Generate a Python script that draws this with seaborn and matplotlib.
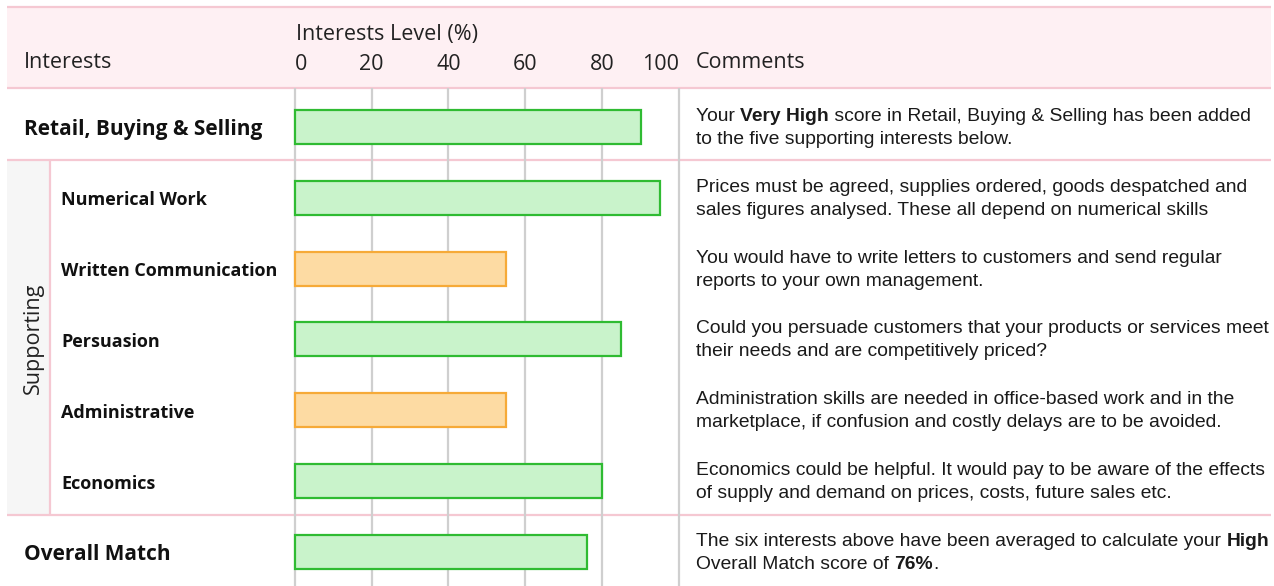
import matplotlib
matplotlib.use("Agg")
import matplotlib.pyplot as plt
import matplotlib.transforms as mtransforms
from matplotlib.patches import Rectangle
import seaborn as sns
import pandas as pd

# ---------------- data ----------------
names = ["Retail, Buying & Selling", "Numerical Work", "Written Communication",
         "Persuasion", "Administrative", "Economics", "Overall Match"]
values = [90, 95, 55, 85, 55, 80, 76]
levels = ["high", "high", "mid", "high", "mid", "high", "high"]
groups = ["main", "support", "support", "support", "support", "support", "main"]
tick_values = [0, 20, 40, 60, 80, 100]
tick_labels = ["0", "20", "40", "60", "80", "100"]
comments = [
    ["Your **Very High** score in Retail, Buying & Selling has been added",
     "to the five supporting interests below."],
    ["Prices must be agreed, supplies ordered, goods despatched and",
     "sales figures analysed. These all depend on numerical skills"],
    ["You would have to write letters to customers and send regular",
     "reports to your own management."],
    ["Could you persuade customers that your products or services meet",
     "their needs and are competitively priced?"],
    ["Administration skills are needed in office-based work and in the",
     "marketplace, if confusion and costly delays are to be avoided."],
    ["Economics could be helpful. It would pay to be aware of the effects",
     "of supply and demand on prices, costs, future sales etc."],
    ["The six interests above have been averaged to calculate your **High**",
     "Overall Match score of **76%**."],
]
header_left = "Interests"
header_mid = "Interests Level (%)"
header_right = "Comments"
group_label = "Supporting"

fill_map = {"high": "#c9f3cb", "mid": "#fddba3"}
edge_map = {"high": "#2fbb32", "mid": "#f6aa38"}

df = pd.DataFrame({"name": names, "value": values, "level": levels})

# ---------------- figure ----------------
sns.set_style("white")
plt.rcParams["font.family"] = ["Open Sans", "DejaVu Sans"]

W, H = 1274, 586
fig = plt.figure(figsize=(W / 100, H / 100), dpi=100)

# overlay axes in pixel coordinates
ov = fig.add_axes([0, 0, 1, 1], zorder=0)
ov.set_xlim(0, W)
ov.set_ylim(H, 0)
ov.axis("off")

# main bar axes
px0 = 294.7
ppu = 3.843
xmin, xmax = -0.5, 100.5
left_px = px0 + xmin * ppu
right_px = px0 + xmax * ppu
top_px, bottom_px = 88, 586
ax = fig.add_axes([left_px / W, 1 - bottom_px / H,
                   (right_px - left_px) / W, (bottom_px - top_px) / H], zorder=1)
ax.patch.set_alpha(0)

row0, step = 127.0, 70.83
palette = [fill_map[l] for l in levels]
sns.barplot(data=df, x="value", y="name", hue="name", palette=palette,
            order=names, hue_order=names, width=0.48, linewidth=1.6,
            saturation=1, dodge=False, legend=False, ax=ax)
for patch, lvl in zip(ax.patches, levels):
    patch.set_edgecolor(edge_map[lvl])
    patch.set_zorder(3)

ax.set_xlim(xmin, xmax)
ax.set_ylim((bottom_px - row0) / step, (top_px - row0) / step)
ax.set_xticks(tick_values)
ax.set_xticklabels(tick_labels)
ax.xaxis.tick_top()
ax.tick_params(axis="x", length=0, pad=9, labelsize=15.5, labelcolor="#222222")
ax.tick_params(axis="y", left=False, labelleft=False)
labs = ax.get_xticklabels()
labs[0].set_ha("left")
labs[-1].set_ha("right")
ax.grid(axis="x", color="#cfcfcf", lw=1.6)
ax.grid(axis="y", visible=False)
ax.set_axisbelow(True)
for s in ax.spines.values():
    s.set_visible(False)
ax.set_xlabel("")
ax.set_ylabel("")

# ---------------- table decorations ----------------
pink = "#f5c8d2"
ov.add_patch(Rectangle((7, 6), 1264, 82, facecolor="#fef0f3", edgecolor="none", zorder=0))
ov.hlines([6.5, 88, 160, 515], 7, 1271, color=pink, lw=1.6, zorder=1)
ov.add_patch(Rectangle((7, 160), 43, 355, facecolor="#f6f6f6", edgecolor="none", zorder=0))
ov.vlines(50, 160, 515, color=pink, lw=1.6, zorder=1)

ov.text(24, 68, header_left, fontsize=15.5, color="#222222", va="baseline", ha="left")
ov.text(296, 40, header_mid, fontsize=15.5, color="#222222", va="baseline", ha="left")
ov.text(696, 68, header_right, fontsize=15.5, color="#222222", va="baseline", ha="left")
ov.text(33, 338, group_label, fontsize=15.5, color="#222222", va="center", ha="center",
        rotation=90)

trans = mtransforms.blended_transform_factory(ov.transData, ax.transData)
shift = 2.5 / step

for i, (nm, grp) in enumerate(zip(names, groups)):
    if grp == "main":
        ov.text(24, i + shift, nm, transform=trans, fontsize=15, fontweight="bold",
                color="#111111", va="center", ha="left")
    else:
        ov.text(61, i + shift, nm, transform=trans, fontsize=13, fontweight="bold",
                color="#111111", va="center", ha="left")


def draw_rich(x, y, line, size):
    parts = line.split("**")
    prev = None
    for k, seg in enumerate(parts):
        if not seg:
            continue
        weight = "bold" if k % 2 else "normal"
        kw = dict(fontsize=size, fontweight=weight, color="#1a1a1a",
                  family=["Liberation Sans", "DejaVu Sans"], ha="left", va="center")
        if prev is None:
            prev = ov.text(x, y, seg, transform=trans, **kw)
        else:
            prev = ov.annotate(seg, xy=(1, 0.5), xycoords=prev, **kw)


dy = 11.5 / step
for i, lines in enumerate(comments):
    draw_rich(696, i - dy + 1.0 / step, lines[0], 13.9)
    draw_rich(696, i + dy + 1.0 / step, lines[1], 13.9)

fig.savefig("out.png", dpi=100)
